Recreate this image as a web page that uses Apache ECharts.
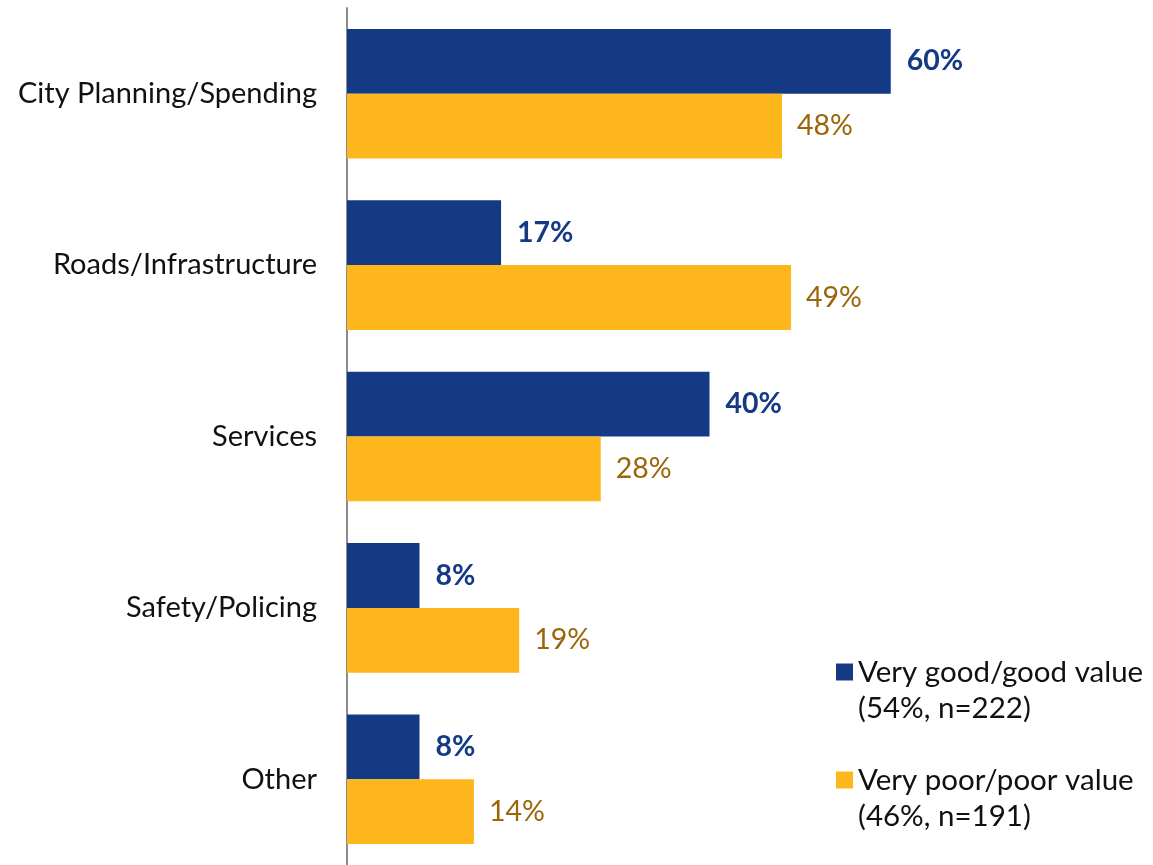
<!DOCTYPE html>
<html>
<head>
<meta charset="utf-8">
<script src="https://cdn.jsdelivr.net/npm/echarts@6/dist/echarts.min.js"></script>
<style>
  html, body { margin: 0; padding: 0; background: #fff; }
  #chart { width: 1153px; height: 865px; }
</style>
</head>
<body>
<div id="chart"></div>
<script>
// Reasons given, split by perceived value for money (percent of respondents)
const categories = ['City Planning/Spending', 'Roads/Infrastructure', 'Services', 'Safety/Policing', 'Other'];
const goodValue = [60, 17, 40, 8, 8];
const poorValue = [48, 49, 28, 19, 14];
// leading blank line keeps the legend swatch level with the first text line
const goodName = '\nVery good/good value\n(54%, n=222)';
const poorName = '\nVery poor/poor value\n(46%, n=191)';

const BLUE = '#143A86';
const GOLD = '#FDB61C';
const FONT = 'Lato, "Open Sans", sans-serif';

const chart = echarts.init(document.getElementById('chart'));
chart.setOption({
  animation: false,
  backgroundColor: '#ffffff',
  grid: { left: 347, top: 8, height: 860, width: 725, containLabel: false },
  xAxis: {
    type: 'value', min: 0, max: 80,
    show: false
  },
  yAxis: {
    type: 'category',
    inverse: true,
    data: categories,
    axisLine: { show: true, lineStyle: { color: '#8c8c8c', width: 2 } },
    axisTick: { show: false },
    splitLine: { show: false },
    axisLabel: {
      margin: 30,
      color: '#111',
      fontFamily: FONT,
      fontSize: 29
    }
  },
  legend: {
    orient: 'vertical',
    left: 836,
    top: 618,
    padding: 0,
    itemWidth: 17,
    itemHeight: 17,
    itemGap: 0,
    icon: 'rect',
    textStyle: {
      fontFamily: FONT,
      fontSize: 29.5,
      color: '#111',
      lineHeight: 36
    },
    data: [goodName, poorName]
  },
  series: [
    {
      name: goodName,
      type: 'bar',
      data: goodValue,
      barGap: '0%',
      barCategoryGap: '24.4%',
      itemStyle: { color: BLUE },
      label: {
        show: true, position: 'right', distance: 16,
        formatter: '{c}%',
        color: BLUE, fontWeight: 'bold', fontFamily: FONT, fontSize: 28.5
      }
    },
    {
      name: poorName,
      type: 'bar',
      data: poorValue,
      barGap: '0%',
      barCategoryGap: '24.4%',
      itemStyle: { color: GOLD },
      label: {
        show: true, position: 'right', distance: 15,
        formatter: '{c}%',
        color: '#9C6508', fontFamily: FONT, fontSize: 28.5
      }
    }
  ]
});
</script>
</body>
</html>
